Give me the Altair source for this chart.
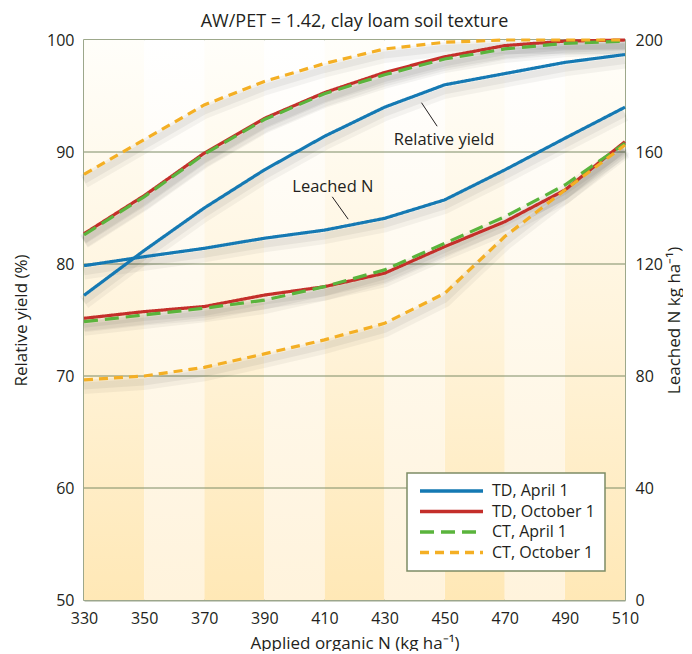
import altair as alt
import pandas as pd

# ---------------- data ----------------
applied_n = [330, 350, 370, 390, 410, 430, 450, 470, 490, 510]
series_names = ["TD, April 1", "TD, October 1", "CT, April 1", "CT, October 1"]
series_colors = ["#1579b3", "#c42f2a", "#5ab43c", "#f4af24"]

yield_td_apr = [77.2, 81.2, 85.0, 88.4, 91.4, 94.0, 96.0, 97.0, 98.0, 98.7]
yield_td_oct = [82.7, 86.1, 89.9, 93.0, 95.3, 97.1, 98.5, 99.5, 99.9, 100.0]
yield_ct_apr = [82.6, 86.0, 89.8, 92.9, 95.2, 96.9, 98.3, 99.2, 99.7, 99.9]
yield_ct_oct = [88.0, 91.1, 94.2, 96.3, 97.9, 99.2, 99.8, 100.0, 100.0, 100.0]

leach_td_apr = [119.4, 122.6, 125.6, 129.2, 132.1, 136.3, 142.9, 153.6, 164.9, 176.0]
leach_td_oct = [100.6, 103.0, 104.8, 108.9, 111.9, 116.7, 126.2, 135.1, 146.4, 163.7]
leach_ct_apr = [99.4, 101.8, 104.2, 107.1, 111.9, 117.9, 127.4, 136.9, 148.2, 163.1]
leach_ct_oct = [78.6, 80.0, 83.1, 87.9, 92.9, 98.8, 109.5, 129.8, 146.4, 162.5]

band_dark_start = [330, 370, 410, 450, 490]
band_light_start = [350, 390, 430, 470]
band_width = 20
grid_yield = [60, 70, 80, 90]
yield_ticks = [50, 60, 70, 80, 90, 100]
leach_ticks = [0, 40, 80, 120, 160, 200]

annot_labels = ["Relative yield", "Leached N"]
annot_x = [449.8, 412.8]
annot_y = [91.1, 86.9]
leader_x = [442.3, 412.6]
leader_y = [94.4, 86.0]
leader_x2 = [447.5, 417.9]
leader_y2 = [92.3, 84.0]

# ---------------- tables ----------------
def long_table(values_list):
    rows = []
    for name, vals in zip(series_names, values_list):
        for n, v in zip(applied_n, vals):
            rows.append({"N": n, "series": name, "v": v})
    return pd.DataFrame(rows)

yield_df = long_table([yield_td_apr, yield_td_oct, yield_ct_apr, yield_ct_oct])
leach_df = long_table([leach_td_apr, leach_td_oct, leach_ct_apr, leach_ct_oct])
dark_df = pd.DataFrame({"N": band_dark_start, "N2": [b + band_width for b in band_dark_start],
                        "y": [50] * len(band_dark_start), "y2": [100] * len(band_dark_start)})
light_df = pd.DataFrame({"N": band_light_start, "N2": [b + band_width for b in band_light_start],
                         "y": [50] * len(band_light_start), "y2": [100] * len(band_light_start)})
grid_df = pd.DataFrame({"g": grid_yield})
annot_df = pd.DataFrame({"label": annot_labels, "N": annot_x, "y": annot_y})
leader_df = pd.DataFrame({"N": leader_x, "y": leader_y, "N2": leader_x2, "y2": leader_y2})

FONT = "Open Sans"
TXT = "#231f20"
FRAME = "#7d8c66"

x_scale = alt.Scale(domain=[330, 510], nice=False, zero=False)
x_axis = alt.Axis(values=applied_n, title="Applied organic N (kg ha\u207b\u00b9)", grid=False,
                  domain=True, domainColor="#9ca68c", domainWidth=2, labelPadding=10,
                  titlePadding=9, labelFlush=False)
y_scale = alt.Scale(domain=[50, 100], nice=False, zero=False)
y_axis = alt.Axis(values=yield_ticks, title="Relative yield (%)", grid=False, orient="left",
                  domain=True, domainColor="#9ca68c", domainWidth=2, labelPadding=10,
                  titlePadding=16, labelFlush=False)
r_scale = alt.Scale(domain=[0, 200], nice=False, zero=True)
r_axis = alt.Axis(values=leach_ticks, title="Leached N kg ha\u207b\u00b9)", grid=False, orient="right",
                  domain=False, labelPadding=10, titlePadding=4, titleAngle=270,
                  titleBaseline="top", labelFlush=False)

LEGEND = dict(orient="none", legendX=323, legendY=433, title=None,
              symbolType="M-1,0H11.6", symbolSize=100, symbolStrokeWidth=3.5,
              labelFontSize=16, labelFont=FONT, labelColor=TXT,
              fillColor="white", strokeColor=FRAME, padding=10,
              rowPadding=4.5, labelOffset=59)
color_enc = alt.Color("series:N", scale=alt.Scale(domain=series_names, range=series_colors),
                      legend=alt.Legend(**LEGEND))
dash_enc = alt.StrokeDash("series:N", scale=alt.Scale(domain=series_names,
                                                      range=[[1, 0], [1, 0], [14, 7], [9, 6]]),
                          legend=alt.Legend(**LEGEND))

X = alt.X("N:Q", scale=x_scale, axis=x_axis)

dark_grad = alt.Gradient(gradient="linear", x1=0, y1=1, x2=0, y2=0,
                         stops=[alt.GradientStop(offset=0, color="#ffe8b6"),
                                alt.GradientStop(offset=0.5, color="#fff4dc"),
                                alt.GradientStop(offset=1, color="#fffefa")])
light_grad = alt.Gradient(gradient="linear", x1=0, y1=1, x2=0, y2=0,
                          stops=[alt.GradientStop(offset=0, color="#fff3dc"),
                                 alt.GradientStop(offset=0.5, color="#fff9ec"),
                                 alt.GradientStop(offset=1, color="#ffffff")])

Y_band = alt.Y("y:Q", scale=y_scale, axis=y_axis)
dark = alt.Chart(dark_df).mark_rect(fill=dark_grad).encode(x=X, x2="N2:Q", y=Y_band, y2="y2:Q")
light = alt.Chart(light_df).mark_rect(fill=light_grad).encode(x=X, x2="N2:Q", y=Y_band, y2="y2:Q")
grid = alt.Chart(grid_df).mark_rule(color=FRAME, strokeWidth=1).encode(
    y=alt.Y("g:Q", scale=y_scale, axis=y_axis))

def shadows(df, yenc):
    a = alt.Chart(df).mark_line(color="#000000", opacity=0.045, strokeWidth=14, yOffset=7).encode(
        x=X, y=yenc, detail="series:N")
    b = alt.Chart(df).mark_line(color="#000000", opacity=0.05, strokeWidth=7, yOffset=6).encode(
        x=X, y=yenc, detail="series:N")
    return a + b

y_yield_noaxis = alt.Y("v:Q", scale=y_scale, axis=None)
y_leach_noaxis = alt.Y("v:Q", scale=r_scale, axis=None)

back_left = alt.layer(dark, light, grid, shadows(yield_df, alt.Y("v:Q", scale=y_scale, axis=y_axis)))
back_right = shadows(leach_df, alt.Y("v:Q", scale=r_scale, axis=r_axis))

yield_lines = alt.Chart(yield_df).mark_line(strokeWidth=3.2).encode(
    x=X, y=y_yield_noaxis, color=color_enc, strokeDash=dash_enc)
texts = alt.Chart(annot_df).mark_text(font=FONT, fontSize=16.5, color=TXT).encode(
    x=X, y=alt.Y("y:Q", scale=y_scale, axis=None), text="label:N")
leaders = alt.Chart(leader_df).mark_rule(color=TXT, strokeWidth=1).encode(
    x=X, y=alt.Y("y:Q", scale=y_scale, axis=None), x2="N2:Q", y2="y2:Q")
front_left = alt.layer(yield_lines, leaders, texts)

leach_lines = alt.Chart(leach_df).mark_line(strokeWidth=3.2).encode(
    x=X, y=y_leach_noaxis, color=color_enc, strokeDash=dash_enc)

chart = alt.layer(back_left, back_right, front_left, leach_lines).resolve_scale(
    y="independent"
).properties(
    width=541, height=560,
    padding={"left": 4, "top": 5, "right": 0, "bottom": 0},
    title=alt.TitleParams("AW/PET = 1.42, clay loam soil texture", fontSize=18, font=FONT,
                          fontWeight="normal", color=TXT, offset=-12),
).configure_view(
    stroke=FRAME, strokeWidth=1.5
).configure_axis(
    labelFont=FONT, labelFontSize=16, labelColor=TXT, titleFont=FONT, titleFontSize=17,
    titleFontWeight="normal", titleColor=TXT, tickSize=0, ticks=False
).configure_legend(
    strokeWidth=1.5
)

chart.save("out.html", embed_options={"renderer": "svg", "actions": False})
